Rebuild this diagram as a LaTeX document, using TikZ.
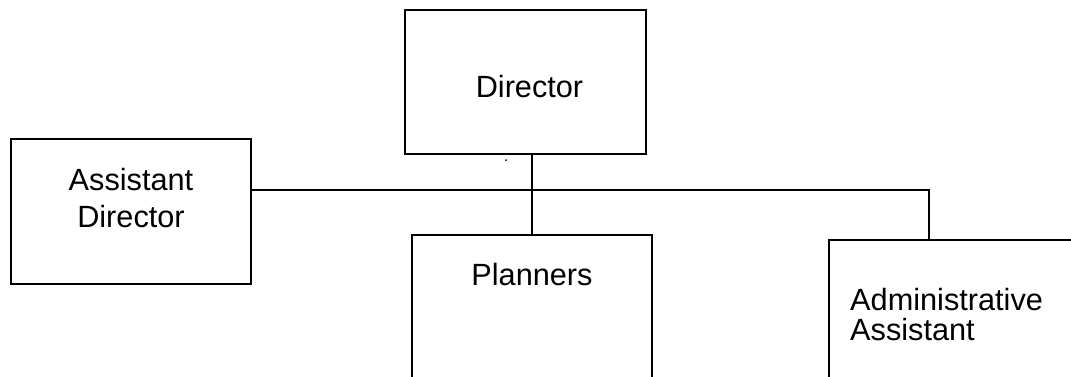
\documentclass[tikz,border=0pt]{standalone}
\usepackage{fontspec}
\setmainfont{Liberation Sans}
\begin{document}
\begin{tikzpicture}[x=1pt,y=-1pt,
  box/.style={draw=black, line width=1.4pt, inner sep=0pt},
  lbl/.style={inner sep=0pt, font=\fontsize{30.7}{37}\selectfont, text=black},
  wire/.style={draw=black, line width=1.4pt}]
\useasboundingbox (0,0) rectangle (1071,376);
% boxes
\node[box, minimum width=241pt, minimum height=144pt] (director) at (525.5,82) {};
\node[box, minimum width=240pt, minimum height=145pt] (asst) at (131,211.5) {};
\node[box, minimum width=240pt, minimum height=165pt] (planners) at (532,317.5) {};
\node[box, minimum width=261pt, minimum height=150pt] (admin) at (959.5,315) {};
% texts
\node[lbl, anchor=base] (tdir) at (529.5,97) {Director};
\node[lbl, anchor=base] (tasst1) at (131,190) {Assistant};
\node[lbl, anchor=base] (tasst2) at (131,227) {Director};
\node[lbl, anchor=base] (tplan) at (532,285) {Planners};
\node[lbl, anchor=base west] (tadm1) at (850,310) {Administrative};
\node[lbl, anchor=base west] (tadm2) at (850,340) {Assistant};
% stray dot
\fill[black] (506,160) circle (1pt);
% connectors
\coordinate (j) at (929,190);
\draw[wire] (planners.north) -- (planners.north |- director.south);
\draw[wire] (asst.east |- j) -- (j) -- (j |- admin.north);
\end{tikzpicture}
\end{document}
